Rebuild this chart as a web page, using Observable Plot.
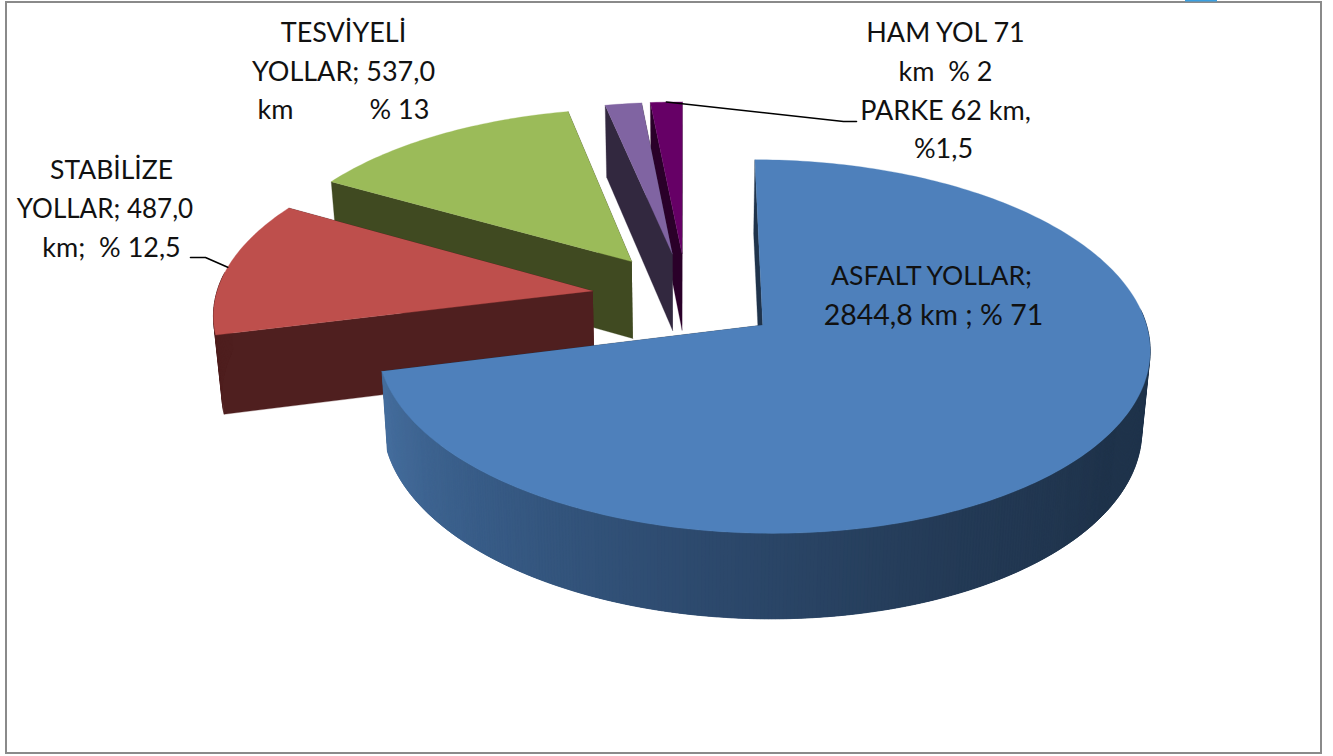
<!DOCTYPE html>
<html><head><meta charset="utf-8">
<style>html,body{margin:0;padding:0;background:#fff;overflow:hidden}</style>
<script src="https://cdn.jsdelivr.net/npm/d3@7"></script>
<script src="https://cdn.jsdelivr.net/npm/@observablehq/plot@0.6"></script>
</head><body><div id="chart"></div>
<script>
// data (km)
const categories = ["ASFALT YOLLAR","STABİLİZE YOLLAR","TESVİYELİ YOLLAR","HAM YOL","PARKE"];
const values = [2844.8, 487.0, 537.0, 71, 62];
const topColors = ["#4e80bb","#be4f4c","#9bbb59","#8064a2","#660066"];
const wallColors = ["#1f334b","#4f1f1f","#404a21","#32283f","#2a0029"];
const rimStops = ["#1f334b","#1f334b","#243b57","#2d4a6e","#385c87","#466f9f"]; // blue rim: right to left
const labelLines = ["TESVİYELİ","YOLLAR; 537,0","km           % 13","STABİLİZE","YOLLAR; 487,0","km;  % 12,5","HAM YOL 71","km  % 2","PARKE 62 km,","%1,5","ASFALT YOLLAR;","2844,8 km ; % 71"];
const labelX = [343,343,343,111,104.5,111,945,945,945,943,931,933];
const labelY = [33,72,110,170,209,248,33,72,111,149,276,315];
const labelSizes = [27,27,27,26.5,26,27,27,27,27,27,26.5,28.5];

// 3D view of the exploded pie
const cx = 686, cy = 296.5, R = 377, ex = 95, q = 0.472, p = 0.0003, depth = 78, shrink = 0.018;
const project = (X, Y, low) => {
  const s = 1 / (1 - p * Y), zs = low ? 1 - shrink : 1;
  return {x: cx + X * s * zs, y: cy + Y * q * s * zs + (low ? depth * s : 0)};
};
const rad = d => d * Math.PI / 180;
const total = d3.sum(values);
let acc = 0;
const slices = values.map((v, i) => {
  const a0 = acc; acc += v / total * 360; const a1 = acc, mid = (a0 + a1) / 2;
  const ox = ex * Math.sin(rad(mid)), oy = -ex * Math.cos(rad(mid));
  const pt = (t, r, low) => project(ox + r * Math.sin(rad(t)), oy - r * Math.cos(rad(t)), low);
  return {i, a0, a1, mid, pt};
});

const pieces = [];
const addPiece = (pts, color) => {
  const id = pieces.length ? pieces[pieces.length - 1].id + 1 : 0;
  pts.forEach(d => pieces.push({...d, id, color}));
};
const rimColor = d3.scaleLinear().domain(d3.range(rimStops.length).map(k => 90 + k * 166 / (rimStops.length - 1))).range(rimStops).interpolate(d3.interpolateRgb);
[...slices].reverse().forEach(s => {
  // radial walls
  [s.a1, s.a0].forEach(t => addPiece([s.pt(t, 0, false), s.pt(t, R, false), s.pt(t, R, true), s.pt(t, 0, true)], wallColors[s.i]));
  // outer rim, front half only: overlapping steps painted from the dark side to the light side
  const step = 0.5;
  for (let t = s.a1 - step; t > s.a0 - step; t -= step) {
    const a = Math.max(t, s.a0), u = Math.min(t + step * 3, s.a1), m = a + step / 2;
    if (m > 85 && m < 275)
      addPiece([s.pt(a, R, false), s.pt(u, R, false), s.pt(u, R, true), s.pt(a, R, true)], s.i === 0 ? rimColor(m) : wallColors[s.i]);
  }
  // top face
  const arc = d3.range(s.a0, s.a1, 1).concat(s.a1).map(t => s.pt(t, R, false));
  addPiece([s.pt(s.a0, 0, false), ...arc], topColors[s.i]);
});

const leaders = [
  [slices[1].pt(slices[1].mid, R, false), {x: 205, y: 257}, {x: 190, y: 257}],
  [slices[4].pt(slices[4].mid, R, false), {x: 843, y: 121}, {x: 856, y: 121}]
].flatMap((l, k) => l.map(d => ({...d, k})));

const labels = labelLines.map((text, i) => ({text, x: labelX[i], y: labelY[i], size: labelSizes[i]}));
const frame = [{x1: 6, x2: 1321, y1: 2, y2: 753}];
const speck = [{x1: 1185, x2: 1217, y1: 0, y2: 1.5}];

const chart = Plot.plot({
  width: 1333, height: 756, margin: 0,
  x: {domain: [0, 1333], range: [0, 1333], axis: null},
  y: {domain: [0, 756], range: [0, 756], axis: null},
  style: {background: "#fff"},
  marks: [
    Plot.rect(frame, {x1: "x1", x2: "x2", y1: "y1", y2: "y2", fill: "#fff", stroke: "#8a8a8a", strokeWidth: 2}),
    Plot.rect(speck, {x1: "x1", x2: "x2", y1: "y1", y2: "y2", fill: "#3a9fe0"}),
    Plot.line(pieces, {x: "x", y: "y", z: "id", fill: "color", stroke: "color", strokeWidth: 0.3}),
    Plot.line(leaders, {x: "x", y: "y", z: "k", stroke: "#000", strokeWidth: 1.6}),
    Plot.text(labels, {x: "x", y: "y", text: "text", fontSize: "size", fontFamily: "Lato", fill: "#111", textAnchor: "middle", lineAnchor: "middle"})
  ]
});
document.getElementById("chart").append(chart);
</script></body></html>
